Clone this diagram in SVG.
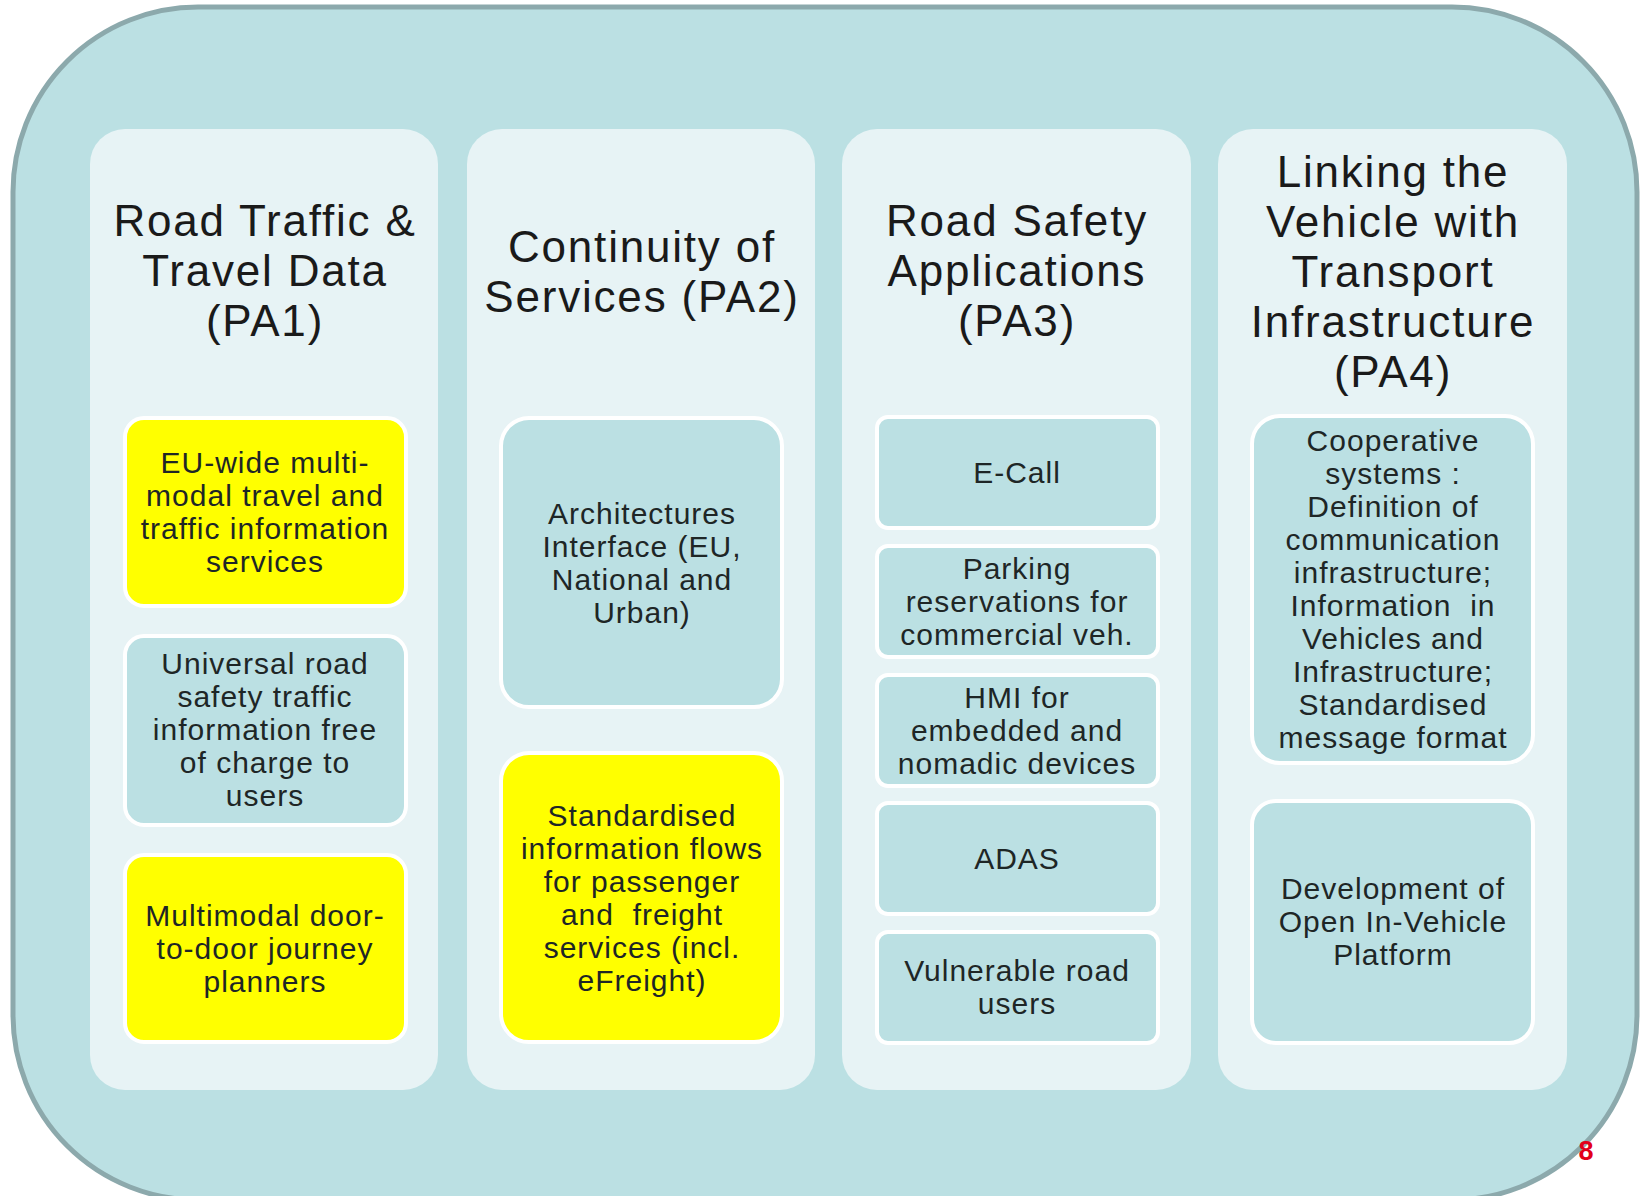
<svg xmlns="http://www.w3.org/2000/svg" width="1640" height="1196" viewBox="0 0 1640 1196">
<style>
.outer{fill:#BBE0E3;stroke:#8CA9AC;stroke-width:5}
.col{fill:#E7F3F5}
.box{fill:#BBE0E3;stroke:#FFFFFF;stroke-width:4}
.yel{fill:#FFFF00;stroke:#FFFFFF;stroke-width:4}
.title{font-family:"Liberation Sans",Arial,sans-serif;font-size:44px;letter-spacing:1.8px;fill:#1A1A1A;text-anchor:middle}
.t{font-family:"Liberation Sans",Arial,sans-serif;font-size:30px;letter-spacing:1px;fill:#1E2626;text-anchor:middle;white-space:pre}
.pg{font-family:"Liberation Sans",Arial,sans-serif;font-size:27px;font-weight:bold;fill:#E2001A;text-anchor:middle}
</style>
<rect class="outer" x="13" y="7" width="1624" height="1193" rx="185" ry="185"/>

<g id="pa1">
<rect class="col" x="90" y="129" width="348" height="961" rx="35"/>
<text class="title" x="265"><tspan x="265" y="236">Road Traffic &amp;</tspan><tspan x="265" y="286">Travel Data</tspan><tspan x="265" y="336">(PA1)</tspan></text>
<g id="pa1-b1"><rect class="yel" x="125" y="418" width="281" height="188" rx="19"/>
<text class="t"><tspan x="265" y="473">EU-wide multi-</tspan><tspan x="265" y="506">modal travel and</tspan><tspan x="265" y="539">traffic information</tspan><tspan x="265" y="572">services</tspan></text></g>
<g id="pa1-b2"><rect class="box" x="125" y="636" width="281" height="189" rx="19"/>
<text class="t"><tspan x="265" y="674">Universal road</tspan><tspan x="265" y="707">safety traffic</tspan><tspan x="265" y="740">information free</tspan><tspan x="265" y="773">of charge to</tspan><tspan x="265" y="806">users</tspan></text></g>
<g id="pa1-b3"><rect class="yel" x="125" y="855" width="281" height="187" rx="19"/>
<text class="t"><tspan x="265" y="926">Multimodal door-</tspan><tspan x="265" y="959">to-door journey</tspan><tspan x="265" y="992">planners</tspan></text></g>
</g>

<g id="pa2">
<rect class="col" x="467" y="129" width="348" height="961" rx="35"/>
<text class="title"><tspan x="642" y="262">Continuity of</tspan><tspan x="642" y="312">Services (PA2)</tspan></text>
<g id="pa2-b1"><rect class="box" x="501" y="418" width="281" height="289" rx="28"/>
<text class="t"><tspan x="642" y="524">Architectures</tspan><tspan x="642" y="557">Interface (EU,</tspan><tspan x="642" y="590">National and</tspan><tspan x="642" y="623">Urban)</tspan></text></g>
<g id="pa2-b2"><rect class="yel" x="501" y="753" width="281" height="289" rx="28"/>
<text class="t"><tspan x="642" y="826">Standardised</tspan><tspan x="642" y="859">information flows</tspan><tspan x="642" y="892">for passenger</tspan><tspan x="642" y="925">and  freight</tspan><tspan x="642" y="958">services (incl.</tspan><tspan x="642" y="991">eFreight)</tspan></text></g>
</g>

<g id="pa3">
<rect class="col" x="842" y="129" width="349" height="961" rx="35"/>
<text class="title"><tspan x="1017" y="236">Road Safety</tspan><tspan x="1017" y="286">Applications</tspan><tspan x="1017" y="336">(PA3)</tspan></text>
<g id="pa3-b1"><rect class="box" x="877" y="417" width="281" height="111" rx="11"/>
<text class="t"><tspan x="1017" y="483">E-Call</tspan></text></g>
<g id="pa3-b2"><rect class="box" x="877" y="546" width="281" height="111" rx="11"/>
<text class="t"><tspan x="1017" y="579">Parking</tspan><tspan x="1017" y="612">reservations for</tspan><tspan x="1017" y="645">commercial veh.</tspan></text></g>
<g id="pa3-b3"><rect class="box" x="877" y="675" width="281" height="111" rx="11"/>
<text class="t"><tspan x="1017" y="708">HMI for</tspan><tspan x="1017" y="741">embedded and</tspan><tspan x="1017" y="774">nomadic devices</tspan></text></g>
<g id="pa3-b4"><rect class="box" x="877" y="803" width="281" height="111" rx="11"/>
<text class="t"><tspan x="1017" y="869">ADAS</tspan></text></g>
<g id="pa3-b5"><rect class="box" x="877" y="932" width="281" height="111" rx="11"/>
<text class="t"><tspan x="1017" y="981">Vulnerable road</tspan><tspan x="1017" y="1014">users</tspan></text></g>
</g>

<g id="pa4">
<rect class="col" x="1218" y="129" width="349" height="961" rx="35"/>
<text class="title"><tspan x="1393" y="187">Linking the</tspan><tspan x="1393" y="237">Vehicle with</tspan><tspan x="1393" y="287">Transport</tspan><tspan x="1393" y="337">Infrastructure</tspan><tspan x="1393" y="387">(PA4)</tspan></text>
<g id="pa4-b1"><rect class="box" x="1252" y="416" width="281" height="347" rx="28"/>
<text class="t"><tspan x="1393" y="451">Cooperative</tspan><tspan x="1393" y="484">systems :</tspan><tspan x="1393" y="517">Definition of</tspan><tspan x="1393" y="550">communication</tspan><tspan x="1393" y="583">infrastructure;</tspan><tspan x="1393" y="616">Information  in</tspan><tspan x="1393" y="649">Vehicles and</tspan><tspan x="1393" y="682">Infrastructure;</tspan><tspan x="1393" y="715">Standardised</tspan><tspan x="1393" y="748">message format</tspan></text></g>
<g id="pa4-b2"><rect class="box" x="1252" y="801" width="281" height="242" rx="24"/>
<text class="t"><tspan x="1393" y="899">Development of</tspan><tspan x="1393" y="932">Open In-Vehicle</tspan><tspan x="1393" y="965">Platform</tspan></text></g>
</g>

<text class="pg" x="1586" y="1160">8</text>
</svg>
